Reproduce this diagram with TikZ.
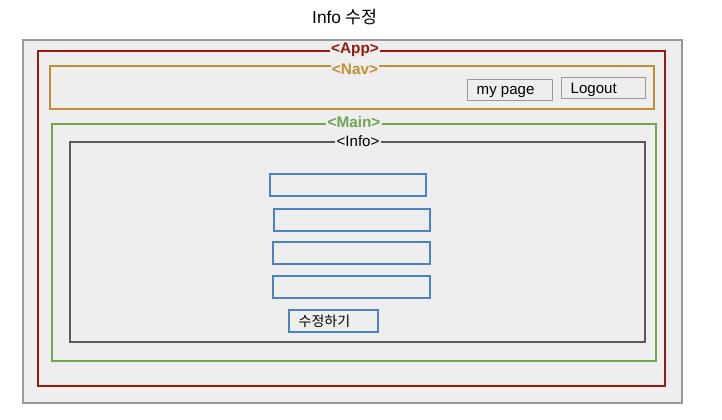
\documentclass[tikz,border=0pt]{standalone}
\usepackage{fontspec}
\setmainfont{Liberation Sans}
\newfontfamily\cjk{Noto Sans CJK KR}
\usepackage{tikz}
\definecolor{pagebg}{HTML}{EEEEEE}
\definecolor{framegray}{HTML}{999999}
\definecolor{appred}{HTML}{931C12}
\definecolor{navgold}{HTML}{BF9031}
\definecolor{maingreen}{HTML}{6FA64F}
\definecolor{infogray}{HTML}{595959}
\definecolor{fieldblue}{HTML}{4A82C6}

\begin{document}
\begin{tikzpicture}[x=0.75pt,y=-0.75pt,
    tag/.style={fill=pagebg,inner sep=1pt,font=\bfseries\fontsize{11.5}{13}\selectfont},
    field/.style={draw=fieldblue,line width=1.5pt},
    btn/.style={draw=framegray,line width=0.7pt,fill=pagebg},
    btntext/.style={anchor=west,font=\fontsize{11.3}{13}\selectfont}]
    \useasboundingbox (0,0) rectangle (722,420);

    \node (title) at (345,17.5) {\fontsize{13}{15}\selectfont Info {\cjk 수정}};

    % frames
    \draw[framegray,fill=pagebg,line width=0.8pt] (23,40) rectangle (682,403);
    \draw[appred,line width=1.5pt] (38,51) rectangle (665,386);
    \draw[navgold,line width=1.5pt] (50,66) rectangle (654,109);
    \draw[maingreen,line width=1.5pt] (52,124) rectangle (656,361);
    \draw[infogray,line width=1.5pt] (70,142) rectangle (645,342);

    \node[tag,text=appred] (app) at (355,49.5) {<App>};
    \node[tag,text=navgold] (nav) at (355,69) {<Nav>};
    \node[tag,text=maingreen] (main) at (354,122.5) {<Main>};
    \node[tag,font=\fontsize{11.3}{13}\selectfont] (info) at (358,141) {<Info>};

    % nav buttons
    \draw[btn] (467,79) rectangle (552,100);
    \node[btntext] (mypage) at (472,92.5) {my page};
    \draw[btn] (561,77) rectangle (645,98);
    \node[btntext] (logout) at (566,89.5) {Logout};

    % input fields
    \draw[field] (270,174) rectangle (426,196);
    \draw[field] (274,209) rectangle (430,231);
    \draw[field] (273,242) rectangle (430,264);
    \draw[field] (273,276) rectangle (430,298);

    \draw[field] (289,310) rectangle (378,332);
    \node[font=\cjk\fontsize{10.5}{12}\selectfont,anchor=west] (submit) at (294,321) {수정하기};
\end{tikzpicture}
\end{document}
